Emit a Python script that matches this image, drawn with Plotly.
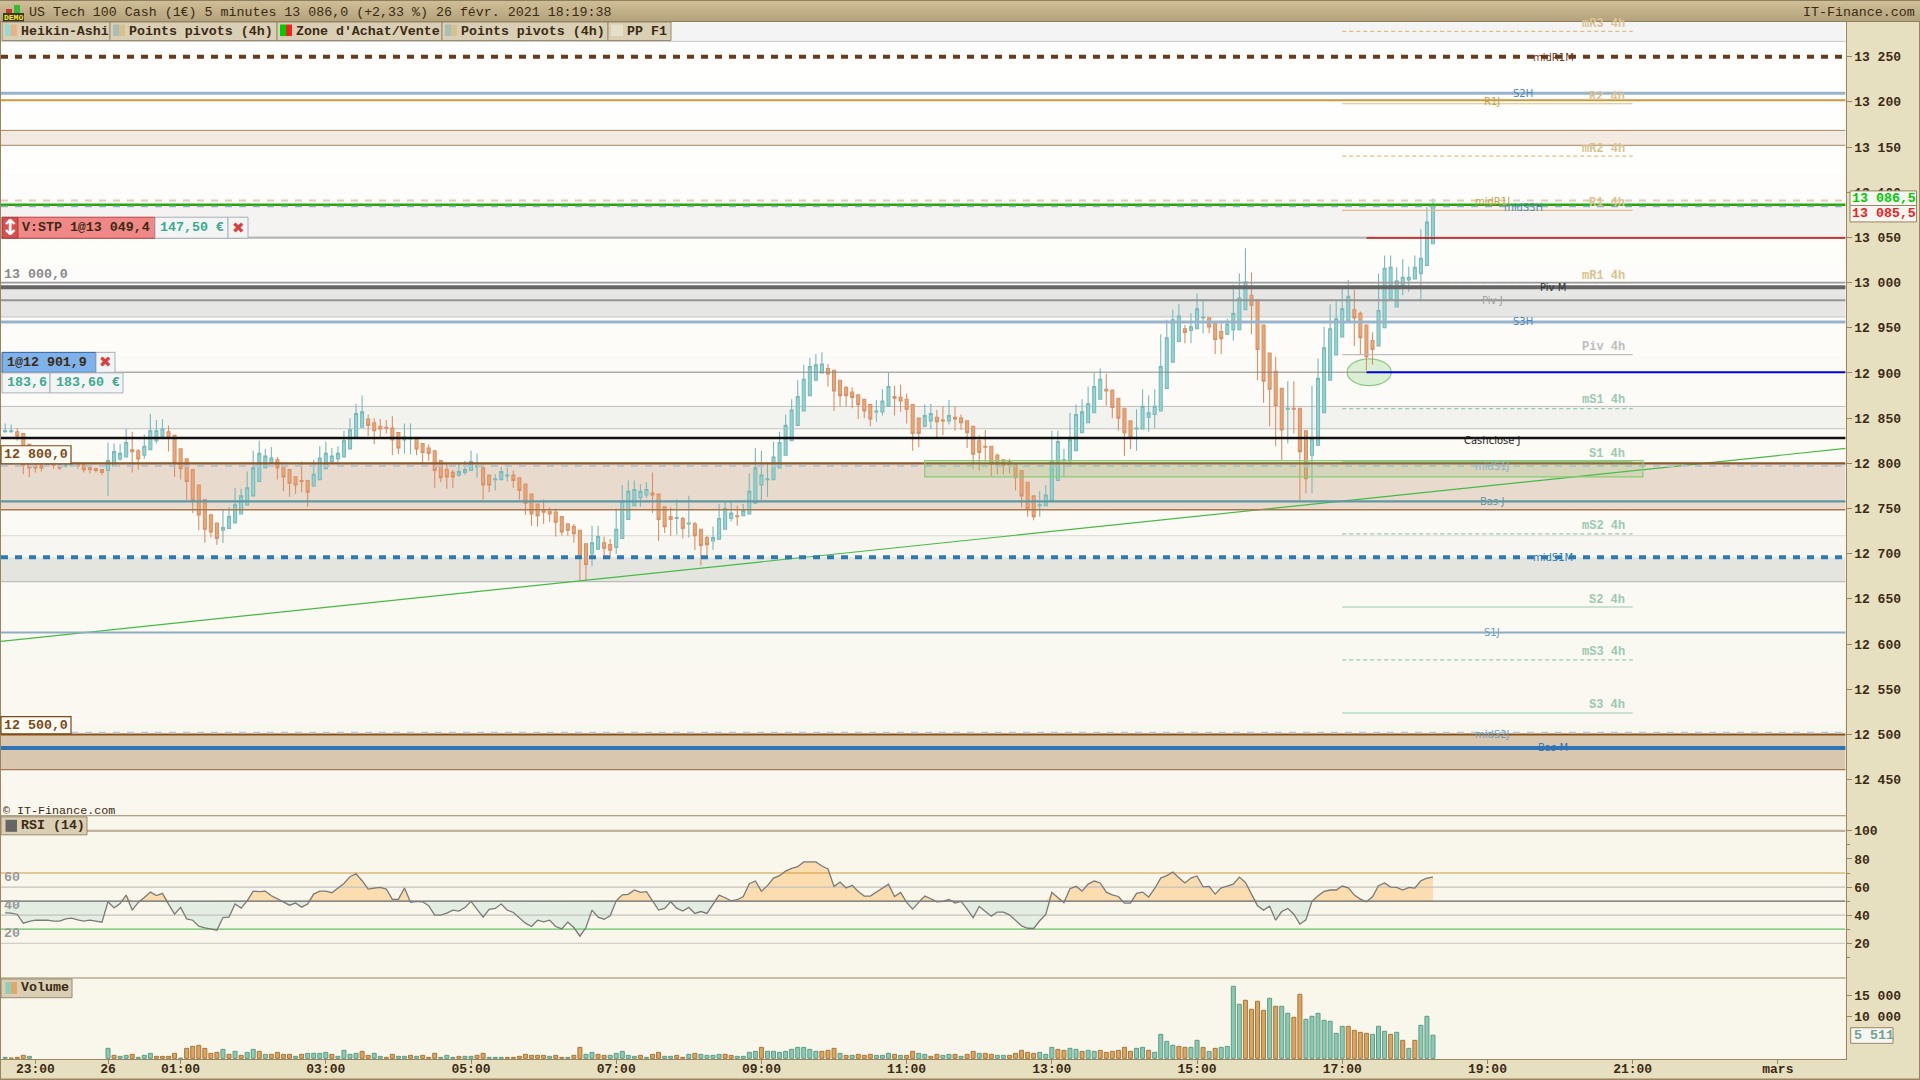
import pandas as pd
import plotly.graph_objects as go

# ---------- data ----------
opens = [12835,12835,12835,12833,12821,
 12800,12798,12800,12799,12798,12797,12797,12798,12798,12795,12794,12793,
 12792,12797,12805,12807,12815,12814,12809,12815,12825,12830,12835,12831,12816,12805,12793,12776,12760,12743,12734,12726,12728,12734,12744,12754,12764,12780,12795,12801,12804,12797,12793,12785,
 12781,12781,12775,12782,12794,12802,12805,12807,12816,12828,12840,12849,12845,12841,12840,12839,12834,12826,12827,12827,12822,12817,12814,12803,12793,12790,12787,12790,12792,12796,12795,12787,12782,12782,12786,12787,12784,12777,12766,12755,12749,12747,12746,12741,12733,12730,12726,12711,12700,12705,
 12712,12710,12707,12717,12738,12753,12762,12765,12767,12766,12752,12741,12739,12739,12733,12733,12727,12718,12714,12716,12727,12739,12742,12742,12744,12756,12776,12782,12782,12795,12809,12825,12842,12858,12875,12892,12900,12905,12903,12892,12884,12879,12876,12871,12865,12857,12857,12863,12874,
 12873,12871,12865,12850,12841,12847,12851,12848,12847,12851,12850,12847,12841,12825,12819,12819,12809,12804,12802,12799,12792,12779,12764,12753,12753,12759,12781,12803,12803,12814,12834,12845,12856,12871,12882,12881,12872,12861,12847,12838,12838,12851,12854,12858,12883,12912,12935,12949,12947,12949,
 12961,12961,12955,12946,12943,12948,12948,12970,12986,12981,12953,12922,12902,12883,12860,12861,12861,12836,12809,12820,12856,12892,12920,12940,12958,12970,12966,12953,12936,12930,12950,12982,12973,12997,13003,13004,13010,13019,13043]
closes = [12836,12836,12830,12798,12795,
 12795,12795,12797,12798,12795,12798,12798,12797,12793,12793,12792,12790,
 12803,12813,12811,12823,12813,12805,12819,12836,12836,12838,12828,12800,12794,12780,12759,12743,12727,12724,12717,12729,12741,12754,12764,12773,12795,12811,12808,12806,12795,12785,12778,12776,
 12780,12768,12788,12806,12811,12808,12811,12825,12837,12855,12857,12842,12836,12838,12839,12826,12817,12829,12828,12816,12812,12811,12792,12784,12785,12785,12791,12793,12802,12797,12776,12776,12783,12791,12787,12781,12770,12756,12744,12742,12746,12744,12735,12724,12726,12722,12696,12688,12712,12719,
 12706,12704,12727,12758,12769,12771,12769,12771,12765,12738,12730,12738,12740,12728,12734,12720,12709,12710,12718,12739,12750,12745,12741,12748,12769,12795,12787,12783,12807,12823,12842,12859,12874,12893,12907,12909,12910,12899,12880,12875,12875,12873,12865,12858,12849,12858,12869,12885,12872,
 12869,12860,12833,12833,12853,12855,12846,12847,12853,12849,12845,12834,12810,12812,12818,12799,12798,12798,12798,12784,12764,12750,12741,12754,12765,12803,12824,12804,12826,12854,12857,12866,12885,12893,12880,12862,12850,12834,12829,12839,12863,12856,12863,12907,12939,12959,12963,12945,12951,12971,
 12962,12951,12937,12938,12954,12966,12983,13001,12975,12926,12891,12882,12864,12837,12861,12860,12813,12783,12827,12894,12928,12949,12960,12971,12985,12961,12939,12918,12926,12969,13016,13017,13002,13006,13006,13017,13027,13067,13086]
highs = [12844,12843,12839,12833,12821,
 12805,12803,12803,12802,12800,12800,12800,12801,12800,12797,12795,12793,
 12823,12822,12821,12838,12835,12816,12832,12855,12848,12849,12842,12831,12816,12805,12793,12776,12760,12743,12734,12749,12752,12773,12772,12791,12814,12825,12816,12818,12807,12797,12793,12785,
 12802,12781,12804,12819,12824,12817,12819,12836,12850,12866,12875,12854,12850,12849,12848,12852,12834,12844,12844,12827,12822,12821,12814,12803,12800,12793,12800,12803,12814,12811,12799,12787,12788,12796,12795,12792,12784,12777,12766,12755,12760,12751,12750,12741,12733,12733,12726,12711,12731,12731,
 12719,12716,12750,12776,12781,12781,12777,12779,12790,12766,12752,12751,12760,12741,12764,12735,12727,12720,12730,12755,12758,12758,12753,12755,12789,12817,12814,12801,12824,12835,12854,12871,12892,12909,12917,12921,12923,12910,12903,12892,12886,12884,12876,12871,12865,12870,12882,12900,12886,
 12887,12877,12865,12850,12865,12866,12859,12863,12870,12863,12854,12847,12841,12831,12837,12819,12811,12804,12805,12799,12792,12779,12764,12769,12776,12836,12836,12816,12856,12865,12871,12885,12900,12905,12899,12881,12872,12861,12847,12860,12882,12875,12882,12943,12959,12970,12976,12953,12966,12988,
 12980,12961,12955,12955,12960,12998,13010,13038,13011,12981,12953,12922,12918,12883,12891,12891,12861,12836,12886,12916,12951,12976,12980,12993,13003,12992,12968,12953,12945,13010,13030,13030,13017,13026,13018,13030,13059,13084,13093]
lows = [12834,12834,12825,12788,12785,
 12790,12791,12796,12794,12793,12795,12796,12794,12790,12789,12790,12787,
 12764,12797,12803,12807,12790,12793,12805,12815,12822,12830,12813,12785,12782,12759,12745,12726,12712,12718,12710,12712,12728,12734,12744,12754,12764,12780,12795,12801,12782,12769,12763,12766,
 12768,12752,12774,12782,12794,12800,12800,12807,12816,12828,12840,12830,12821,12828,12833,12809,12810,12811,12810,12809,12800,12803,12773,12779,12772,12773,12785,12787,12792,12784,12760,12768,12770,12782,12780,12773,12760,12743,12731,12730,12733,12735,12719,12720,12720,12712,12670,12670,12686,12705,
 12698,12694,12700,12717,12738,12753,12752,12762,12745,12714,12723,12720,12721,12717,12718,12704,12687,12698,12704,12716,12727,12736,12731,12742,12744,12756,12759,12763,12782,12795,12809,12825,12842,12858,12875,12892,12900,12885,12858,12863,12863,12861,12849,12850,12841,12846,12853,12863,12853,
 12857,12844,12814,12818,12840,12838,12829,12831,12843,12836,12837,12817,12794,12792,12802,12786,12788,12788,12789,12770,12751,12741,12737,12741,12753,12759,12781,12785,12796,12814,12834,12845,12856,12871,12864,12850,12836,12808,12816,12814,12838,12835,12839,12858,12883,12912,12935,12933,12933,12949,
 12944,12944,12921,12921,12942,12936,12948,12970,12943,12892,12867,12841,12819,12803,12822,12833,12759,12767,12767,12820,12856,12892,12920,12940,12958,12930,12920,12903,12909,12930,12950,12982,12973,12986,12990,13004,12979,13019,13043]
rsi = [41.7,41.4,40.5,34.3,35.5,36.4,36.4,36.4,35.7,35.7,37.4,37.9,36.7,35.7,36.4,35.7,35.0,49.5,45.2,48.3,54.3,43.6,49.1,52.6,56.4,54.0,55.5,47.9,40.7,45.5,37.4,36.4,32.2,31.0,30.2,29.3,38.3,38.6,47.9,45.0,50.2,57.1,56.7,57.1,53.8,51.4,49.1,47.1,48.6,45.7,47.9,55.0,57.1,57.1,56.0,59.3,62.6,67.4,69.5,64.5,58.6,59.3,59.8,58.6,51.2,51.2,59.3,49.1,49.8,49.5,46.7,40.0,40.0,41.4,43.6,42.9,45.5,49.8,44.1,38.6,44.1,44.8,47.9,43.6,41.9,38.3,34.3,31.9,36.4,35.2,36.4,31.9,30.2,35.0,31.2,25.0,31.2,43.6,38.6,37.1,39.5,50.2,54.5,54.8,57.9,56.2,56.7,50.2,43.6,44.8,49.5,45.0,42.9,45.5,41.2,42.6,41.2,47.6,54.3,
 52.4,50.2,51.0,53.3,62.4,64.3,57.1,61.0,66.4,68.1,71.4,73.3,74.5,77.9,77.9,77.9,75.0,72.9,60.5,63.6,59.3,61.2,56.9,53.6,53.6,56.4,59.8,62.1,53.3,56.2,49.1,44.3,49.1,53.6,51.7,49.5,49.8,51.2,48.6,49.8,44.3,38.1,46.2,42.6,39.3,42.2,42.2,40.2,36.0,32.4,30.7,30.5,36.0,40.5,56.2,52.6,48.8,58.8,60.5,57.1,62.1,64.3,62.9,56.4,54.5,53.3,48.6,48.6,55.5,56.4,52.9,59.0,66.4,68.1,70.7,66.7,62.9,66.4,67.9,60.2,60.5,55.0,59.5,60.7,62.1,67.1,63.3,55.0,46.7,43.6,46.4,36.4,42.6,44.8,40.7,33.6,36.7,49.8,53.8,56.9,57.9,57.9,60.7,59.5,54.3,51.4,49.5,53.1,61.0,62.9,60.0,59.8,57.9,59.8,59.3,64.5,66.4,67.1]
volumes = [238,80,238,715,476]+[None]*12+[
 2382,715,476,715,953,238,715,1191,476,476,476,1191,50,2382,2858,3097,2382,1191,1429,2144,953,1667,715,1429,2144,1667,953,953,1429,953,953,476,953,1191,1191,1191,1429,953,476,1905,953,1191,1667,715,1191,476,238,953,476,476,715,476,715,238,1191,238,715,238,476,476,476,715,1191,238,238,238,238,238,476,953,715,715,715,476,715,238,238,715,2620,953,1429,953,715,715,1191,1667,715,476,715,238,953,1429,476,476,715,238,953,1191,953,715,715,953,
 953,715,476,476,1429,1667,2620,1667,1667,1429,1667,2144,2620,2620,2144,1667,1667,1905,2382,1191,715,715,953,715,953,715,715,1191,953,715,715,1667,1191,953,476,953,715,953,953,476,953,1667,1191,1191,953,715,715,715,1191,1905,1429,1191,1429,953,2620,2144,1905,2382,2144,1667,1905,1667,1905,1429,1667,1905,2620,1667,2382,2620,1905,1429,5717,4049,3097,2858,2620,2620,4288,2620,1667,2382,2620,2858,17150,12863,13816,11672,13577,11434,14292,12386,12386,10719,9766,15245,9290,10004,10719,9052,8813,5955,7622,7622,6670,6193,5955,5717,7622,6431,5717,6193,4288,2382,4288,7861,10004,5511]
volume_up = [1,0,0,0,1]+[0]*12+[
 1,0,1,1,0,1,1,1,0,0,
 0,0,1,0,0,0,0,0,0,1,
 0,1,0,1,1,0,1,0,0,0,
 0,1,0,1,1,1,1,0,1,1,
 1,1,0,0,1,1,0,0,1,1,
 0,1,0,0,0,1,1,1,0,1,
 1,0,0,1,1,1,0,0,0,0,
 0,0,0,1,0,0,1,0,0,1,
 1,0,0,1,1,1,1,1,0,1,
 0,0,1,1,0,0,1,0,1,1,1,1,
 0,0,1,1,1,1,0,1,1,1,
 1,1,1,1,1,1,0,0,0,1,
 0,1,0,0,0,1,1,1,0,1,
 0,0,1,1,0,0,1,1,0,1,
 0,0,1,0,0,1,1,0,0,0,
 0,0,1,1,1,0,0,1,1,0,
 1,1,0,0,0,0,0,0,1,1,
 0,1,1,1,1,0,0,1,1,0,
 1,0,1,1,1,1,0,0,0,0,
 1,0,1,1,0,0,1,1,1,1,
 1,1,1,0,0,0,0,1,1,1,
 0,1,0,1,0,1,1,1]

LEVEL = {"midR1M":13250,"S2H":13209.5,"R1J":13202,"bandA_top":13168.5,"bandA_bot":13152,"midR1J":13091,
 "ask":13086.5,"bid":13085.5,"midS3H":13084,"top_zone":13267,"zoneB_bot":13050.6,"stop":13049.4,"p13000":13000,"PivM":12995,
 "PivJ":12980.5,"bandC_bot":12962,"S3H":12956.5,"entry":12901.9,"bandD_top":12863,"bandD_bot":12838.3,"Cashclose":12828,
 "p12800":12800,"midS1J":12797,"bandE_bot":12748.6,"BasJ":12758,"bandF_top":12720,"midS1M":12696,"bandG_bot":12669,
 "S1J":12612.7,"p12500":12500,"midS2J":12502,"BasM":12485,"bandH_bot":12461}
PIVOT_4H_NAMES  = ["mR3 4h","R2 4h","mR2 4h","R1 4h","mR1 4h","Piv 4h","mS1 4h","S1 4h","mS2 4h","S2 4h","mS3 4h","S3 4h"]
PIVOT_4H_PRICES = [13278,13198,13140,13080,13000,12920.4,12860.6,12802,12722,12641,12582.4,12523.7]
TREND_PRICES = [12603,12816.5]
RSI_LEVELS = [100,70,60,50,40,30,20]
PRICE_TICKS = list(range(12450,13251,50))
X_TICK_BARS = [0,12,24,48,72,96,120,144,168,192,216,240,264,288]
X_TICK_TEXT = ["23:00","26","01:00","03:00","05:00","07:00","09:00","11:00","13:00","15:00","17:00","19:00","21:00","mars"]

n = len(opens)
assert n == len(closes) == len(highs) == len(lows) == len(rsi) == len(volumes) == len(volume_up), (n,len(closes),len(highs),len(lows),len(rsi),len(volumes),len(volume_up))

# ---------- geometry ----------
W, H = 1920, 1080
PL, PR = 1, 1845.6
Y0, Y1, Y2, Y3 = 21.5, 815, 977, 1058.3
STRETCH = 1.001
T0 = pd.Timestamp("2021-02-25 23:00")
def tm(bar):
    return (T0 + pd.Timedelta(minutes=5*bar)).strftime("%Y-%m-%d %H:%M:%S")
LEFT, RIGHT = tm(-5.686), tm(299.2)
times = [tm(i-5) for i in range(n)]
def xp(p): return p/W
def yp(p): return 1-p*STRETCH/H

MONO = "Liberation Mono"
SANS = "DejaVu Sans"
INK = "#3C2A12"
FRAME = "#9A8560"
FS = 13.3

fig = go.Figure()
shapes = []
ann = []

def rect(x0,y0,x1,y1,fill,line=None,lw=1,layer="above"):
    shapes.append(dict(type="rect",xref="paper",yref="paper",x0=xp(x0),x1=xp(x1),y0=yp(y0),y1=yp(y1),
        fillcolor=fill,line=dict(color=line or fill,width=lw if line else 0),layer=layer))
def mix(a,b,f):
    return "#%02X%02X%02X"%tuple(round(a[i]+(b[i]-a[i])*f) for i in range(3))
def note(text,x,y,color=INK,size=FS,bold=True,anchor="left",family=MONO):
    ann.append(dict(text=text,xref="paper",yref="paper",x=xp(x),y=yp(y),showarrow=False,xanchor=anchor,yanchor="middle",
        font=dict(family=family,size=size,color=color,weight=700 if bold else 400),borderpad=0))
def band(p0,p1,fill,x0=LEFT,x1=RIGHT):
    shapes.append(dict(type="rect",xref="x",yref="y",x0=x0,x1=x1,y0=p0,y1=p1,fillcolor=fill,line=dict(width=0),layer="below"))
def hline(p,color,w=1,dash="solid",x0=LEFT,x1=RIGHT,layer="above"):
    shapes.append(dict(type="line",xref="x",yref="y",x0=x0,x1=x1,y0=p,y1=p,line=dict(color=color,width=w,dash=dash),layer=layer))

# pane backgrounds
steps = 26
for k in range(steps):
    a = Y0+(Y1-Y0)*k/steps; b = Y0+(Y1-Y0)*(k+1)/steps
    rect(PL,a,PR,b,mix((255,255,255),(249,247,238),k/(steps-1)),layer="below")
rect(PL,Y1,PR,Y3,"#F9F7EC",layer="below")

L = LEVEL
# bands
band(L["top_zone"],13289,"#F4F4F4")
band(L["bandA_top"],L["bandA_bot"],"#F3EAE1")
band(L["midS3H"],L["zoneB_bot"],"#F4F3F2")
band(L["PivM"],L["bandC_bot"],"#E6E6E5")
band(L["bandD_top"],L["bandD_bot"],"#F2F3EE")
band(L["p12800"],L["bandE_bot"],"#E8DACC")
band(L["bandF_top"],L["midS1M"],"#F7F6F0")
band(L["midS1M"],L["bandG_bot"],"#E5E5E0")
band(L["p12500"],L["bandH_bot"],"#DAC7AF")

# ellipse around the entry
shapes.append(dict(type="circle",xref="x",yref="y",x0=tm(216.8),x1=tm(224.1),y0=12886,y1=12915.6,
    fillcolor="rgba(150,215,140,0.32)",line=dict(color="#8ACB84",width=1.2),layer="below"))

# level edges
hline(L["top_zone"],"#C6C6C6",1,layer="below")
hline(L["bandA_top"],"#A88560",1,layer="below")
hline(L["bandA_bot"],"#A88560",1,layer="below")
hline(L["zoneB_bot"],"#C8C8C8",1,layer="below")
hline(L["bandC_bot"],"#C4C4C4",1,layer="below")
hline(L["bandD_top"],"#BFBFBF",1,layer="below")
hline(L["bandD_bot"],"#BFBFBF",1,layer="below")
hline(L["bandE_bot"],"#A8794F",1.4)
hline(L["bandF_top"],"#E0E0DC",1.2,layer="below")
hline(L["bandG_bot"],"#BDBDBD",1.2,layer="below")
hline(L["bandH_bot"],"#A8794F",1.2)

# 4h pivots
piv_x0, piv_x1 = tm(216), tm(264)
for name,price in zip(PIVOT_4H_NAMES,PIVOT_4H_PRICES):
    mid = name.startswith("m")
    if name.startswith("Piv"):
        col = "#BDBDBD"
    elif name.startswith(("R","mR")):
        col = "#DDBF80"
    else:
        col = "#9BC9B2"
    hline(price,col,1.2,"4px,3px" if mid else "solid",piv_x0,piv_x1)

# main levels
hline(L["midR1M"],"#6B3A1A",4,"7px,7px")
hline(L["S2H"],"#97B4CB",3)
hline(L["R1J"],"#C89A3C",2)
hline(L["midR1J"],"#E0C9B5",2,"7px,7px")
hline(L["bid"],"#F03020",1.2)
hline(L["midS3H"]+0.5,"#8FAEC0",2,"7px,7px")
hline(L["ask"],"#00BB00",2)
hline(L["stop"],"#888888",1,x1=tm(220))
hline(L["stop"],"#BB0000",1.3,x0=tm(220))
hline(L["p13000"],"#9A9A9A",1.6)
hline(L["PivM"],"#666666",4)
hline(L["PivJ"],"#949494",2)
hline(L["S3H"],"#97B4CB",3)
hline(L["entry"]-1,"#888888",1,x1=tm(220))
hline(L["entry"]-1,"#0000DD",2,x0=tm(220))
hline(L["Cashclose"],"#111111",2.4)
hline(L["p12800"],"#8D5A2B",2.4)
hline(L["midS1J"],"#B5C7D8",2,"7px,7px")
hline(L["BasJ"],"#5F97A3",2.2)
hline(L["midS1M"],"#2E7BB3",4,"7px,7px")
hline(L["S1J"],"#8FAEC4",2)
hline(L["p12500"],"#8B5014",2)
hline(L["midS2J"],"#B5C7D8",1.6,"7px,7px")
hline(L["BasM"],"#2F75B5",4)

# buy/sell zone rectangle
shapes.append(dict(type="rect",xref="x",yref="y",x0=tm(147),x1=tm(265.7),y0=12785,y1=12803,
    fillcolor="rgba(130,200,100,0.18)",line=dict(color="#88CC77",width=1.2),layer="above"))

# ---------- traces ----------
fig.add_trace(go.Scatter(x=[LEFT,RIGHT],y=TREND_PRICES,mode="lines",line=dict(color="#44BB44",width=1.2),hoverinfo="skip",xaxis="x",yaxis="y"))
fig.add_trace(go.Candlestick(x=times,open=opens,high=highs,low=lows,close=closes,xaxis="x",yaxis="y",
    increasing=dict(fillcolor="#93D5D4",line=dict(color="#7AB9B9",width=1.1)),
    decreasing=dict(fillcolor="#E8A878",line=dict(color="#DA9067",width=1.1)),whiskerwidth=0,hoverinfo="skip"))

base = [50]*n
fig.add_trace(go.Scatter(x=times,y=base,mode="lines",line=dict(width=0),xaxis="x",yaxis="y2",hoverinfo="skip"))
fig.add_trace(go.Scatter(x=times,y=[max(v,50) for v in rsi],mode="lines",line=dict(width=0),fill="tonexty",fillcolor="#FBDDB0",xaxis="x",yaxis="y2",hoverinfo="skip"))
fig.add_trace(go.Scatter(x=times,y=base,mode="lines",line=dict(width=0),xaxis="x",yaxis="y2",hoverinfo="skip"))
fig.add_trace(go.Scatter(x=times,y=[min(v,50) for v in rsi],mode="lines",line=dict(width=0),fill="tonexty",fillcolor="#E3EDE2",xaxis="x",yaxis="y2",hoverinfo="skip"))
rsi_style = {100:("#BDB29A",2.4),70:("#D09A40",1.2),60:("#C6C2BE",1.2),50:("#666666",1.2),40:("#C6C2BE",1.2),30:("#66C066",1.2),20:("#C6C2BE",1.2)}
for lv in RSI_LEVELS:
    c,w = rsi_style[lv]
    fig.add_trace(go.Scatter(x=[LEFT,RIGHT],y=[lv,lv],mode="lines",line=dict(color=c,width=w),xaxis="x",yaxis="y2",hoverinfo="skip"))
fig.add_trace(go.Scatter(x=times,y=rsi,mode="lines",line=dict(color="#7A7A78",width=1.3),xaxis="x",yaxis="y2",hoverinfo="skip"))

vx = [t for t,v in zip(times,volumes) if v is not None]
vy = [v for v in volumes if v is not None]
vu = [u for u,v in zip(volume_up,volumes) if v is not None]
fig.add_trace(go.Bar(x=vx,y=vy,width=0.66*300000,xaxis="x",yaxis="y3",hoverinfo="skip",
    marker=dict(color=["#8CC9B4" if u else "#DBA45F" for u in vu],
                line=dict(color=["#5F9C84" if u else "#A9763C" for u in vu],width=1))))

# ---------- chrome ----------
for lv in [Y1,Y2]:
    rect(PL,lv-0.5,PR,lv+0.5,"#9A8560")
rect(0,0,1,1078,"#9A8560")
rect(1919,0,1920,1078,"#9A8560")
rect(0,1077.5,1920,1079,"#9A8560")
# title bar
for k in range(11):
    rect(0,k*2,W,k*2+2,mix((207,190,149),(179,163,125),k/10))
rect(0,0,W,1,"#8E7F5F")
rect(0,21,W,22,"#8E7F5F")
# logo
rect(3,13,24,22,"#3A3A2A")
rect(6,9,12,13,"#CC3333")
rect(14,5,20,13,"#33BB33")
note("DEMO",13.5,17.5,"#FFE820",8,True,"center")
note("US Tech 100 Cash (1€) 5 minutes 13 086,0 (+2,33 %) 26 févr. 2021 18:19:38",28,12,INK,FS,False)
note("IT-Finance.com",1916,12,INK,FS,False,"right")
# tabs
tab_edges = [2,110,277,442,608,671]
tab_text = ["Heikin-Ashi","Points pivots (4h)","Zone d'Achat/Vente","Points pivots (4h)","PP F1"]
tab_cols = [("#9AD8D2","#EFAF7E"),("#A9BDBB","#D8C08C"),("#00CC00","#EE2222"),("#A9BDBB","#D8C08C"),("#E6DFC8","#E6DFC8")]
for k,t in enumerate(tab_text):
    a,b = tab_edges[k],tab_edges[k+1]
    rect(a,22,b,40.5,"#D8CFB5","#9A8A6A",1)
    rect(a+3,24.5,a+9,36,tab_cols[k][0])
    rect(a+9,24.5,a+15,36,tab_cols[k][1])
    note(t,a+18,31,INK,FS,True)
# order tags
rect(2,217,18,238,"#D65050","#A83030",1)
note("↕",10,227.5,"#FFFFFF",22,True,"center",SANS)
rect(18,217,155,238,"#F08888","#B84040",1)
note("V:STP 1@13 049,4",21,227.5,INK,FS,True)
rect(155,217,228,238,"#F3F5F5","#A8B0B8",1)
note("147,50 €",159,227.5,"#3AAA90",FS,True)
rect(228,217,248,238,"#F3F5F5","#A8B0B8",1)
note("✖",238,227.5,"#D84040",15,True,"center",SANS)
rect(2,352,96,372,"#7EB2EA","#3060A0",1)
note("1@12 901,9",6,362,INK,FS,True)
rect(96,352,115,372,"#F3F5F5","#A8B0B8",1)
note("✖",105.5,362,"#D84040",15,True,"center",SANS)
rect(2,372.5,50,392.5,"#F3F5F5","#A8B0B8",1)
rect(50,372.5,123,392.5,"#F3F5F5","#A8B0B8",1)
note("183,6",6,382.5,"#3AAA90",FS,True)
note("183,60 €",55,382.5,"#3AAA90",FS,True)
note("13 000,0",3,274,"#8A8A8A",FS,True)
rect(1,445.3,71,463.3,"#FDFBF4","#7A4A18",1.2)
note("12 800,0",3,454.5,"#7A4A18",FS,True)
rect(1,716,71,733,"#FDFBF4","#7A4A18",1.2)
note("12 500,0",3,725,"#7A4A18",FS,True)
note("© IT-Finance.com",2,810,INK,11.7,False)
# right price boxes
rect(1850,190.7,1916.5,205.3,"#F6F6F2",FRAME,1)
note("13 086,5",1851,198,"#00CC00",FS,True)
rect(1850,205.3,1916.5,221.7,"#F6F6F2",FRAME,1)
note("13 085,5",1851,213.5,"#F02020",FS,True)
rect(1850.7,1026.7,1893,1042.3,"#F6F6F2",FRAME,1)
note("5 511",1852.5,1034.5,"#6FA38F",FS,True)
# pane tabs
rect(1,816,87,834,"#D8CFB5","#9A8A6A",1)
rect(5.5,819,17,831,"#666666")
note("RSI (14)",20,825,INK,FS,True)
rect(1,978,72,996.7,"#D8CFB5","#9A8A6A",1)
rect(5.5,981,11,993,"#93CDB8")
rect(11,981,17,993,"#DFA86A")
note("Volume",20,987,INK,FS,True)
for txt,y in [("60",877),("40",905),("20",933)]:
    note(txt,3,y,"#9A9A9A",FS,True)
# pivot labels
piv_label_y = {"mR3 4h":24,"R2 4h":97,"mR2 4h":149,"R1 4h":203,"mR1 4h":275.5,"Piv 4h":346.5,"mS1 4h":400,"S1 4h":454,"mS2 4h":525,"S2 4h":599,"mS3 4h":651.7,"S3 4h":704.3}
for name in PIVOT_4H_NAMES:
    if name.startswith("Piv"): col="#BDBDBD"
    elif name.startswith(("R","mR")): col="#DBC290"
    else: col="#9BC9B2"
    note(name,1626,piv_label_y[name],col,12,True,"right")
# level labels
for txt,x,y,col in [("midR1M",1553,57,"#6B3A1A"),("S2H",1523,93,"#4A8AC0"),("R1J",1492,101,"#C8A040"),
    ("midR1J",1492,201,"#C8A040"),("midS3H",1523,207,"#4A8AC0"),("Piv M",1553,287,"#333333"),("Piv J",1492,300,"#A0A0A0"),
    ("S3H",1523,321,"#4A8AC0"),("Cashclose J",1492,440,"#222222"),("midS1J",1492,466,"#8FAEC4"),("Bas J",1492,501,"#5F97A3"),
    ("midS1M",1553,557,"#2E7BB3"),("S1J",1492,632,"#6FA0C0"),("midS2J",1492,734,"#6FA0C0"),("Bas M",1553,747,"#2F75B5")]:
    note(txt,x,y,col,10,False,"center",SANS)

fig.update_layout(
    width=W,height=H,margin=dict(l=0,r=0,t=0,b=0),autosize=False,showlegend=False,
    paper_bgcolor="#E6DFC0",plot_bgcolor="#F9F7EC",bargap=0,
    shapes=shapes,annotations=ann,hovermode=False,
    xaxis=dict(domain=[xp(PL),xp(PR)],range=[LEFT,RIGHT],anchor="y3",rangeslider=dict(visible=False),
        tickmode="array",tickvals=[tm(b) for b in X_TICK_BARS],ticktext=X_TICK_TEXT,ticks="outside",ticklen=4,tickcolor=FRAME,ticklabelstandoff=-7,
        tickfont=dict(family=MONO,size=13,color=INK,weight=700),showgrid=False,showline=True,linecolor=FRAME,linewidth=1,zeroline=False),
    yaxis=dict(domain=[yp(Y1),yp(Y0)],range=[12409.9,13289],side="right",anchor="x",tickmode="array",tickvals=PRICE_TICKS,
        ticktext=[f"{v:,}".replace(","," ") for v in PRICE_TICKS],ticks="outside",ticklen=5,tickcolor=FRAME,
        tickfont=dict(family=MONO,size=13,color=INK,weight=700),showgrid=False,showline=True,linecolor=FRAME,zeroline=False),
    yaxis2=dict(domain=[yp(Y2),yp(Y1)],range=[-4.7,110.7],side="right",anchor="x",tickmode="array",tickvals=[20,40,60,80,100],
        ticks="outside",ticklen=5,tickcolor=FRAME,minor=dict(tickvals=[10,30,50,70,90],ticks="outside",ticklen=3,tickcolor=FRAME),
        tickfont=dict(family=MONO,size=13,color=INK,weight=700),showgrid=False,showline=True,linecolor=FRAME,zeroline=False),
    yaxis3=dict(domain=[yp(Y3),yp(Y2)],range=[-238,19120],side="right",anchor="x",tickmode="array",tickvals=[10000,15000],
        ticktext=["10 000","15 000"],ticks="outside",ticklen=5,tickcolor=FRAME,
        tickfont=dict(family=MONO,size=13,color=INK,weight=700),showgrid=False,showline=True,linecolor=FRAME,zeroline=False),
)
fig.write_html("out.html",config=dict(displayModeBar=False,staticPlot=True),
    post_script="document.body.style.margin='0';document.documentElement.style.overflow='hidden';")
